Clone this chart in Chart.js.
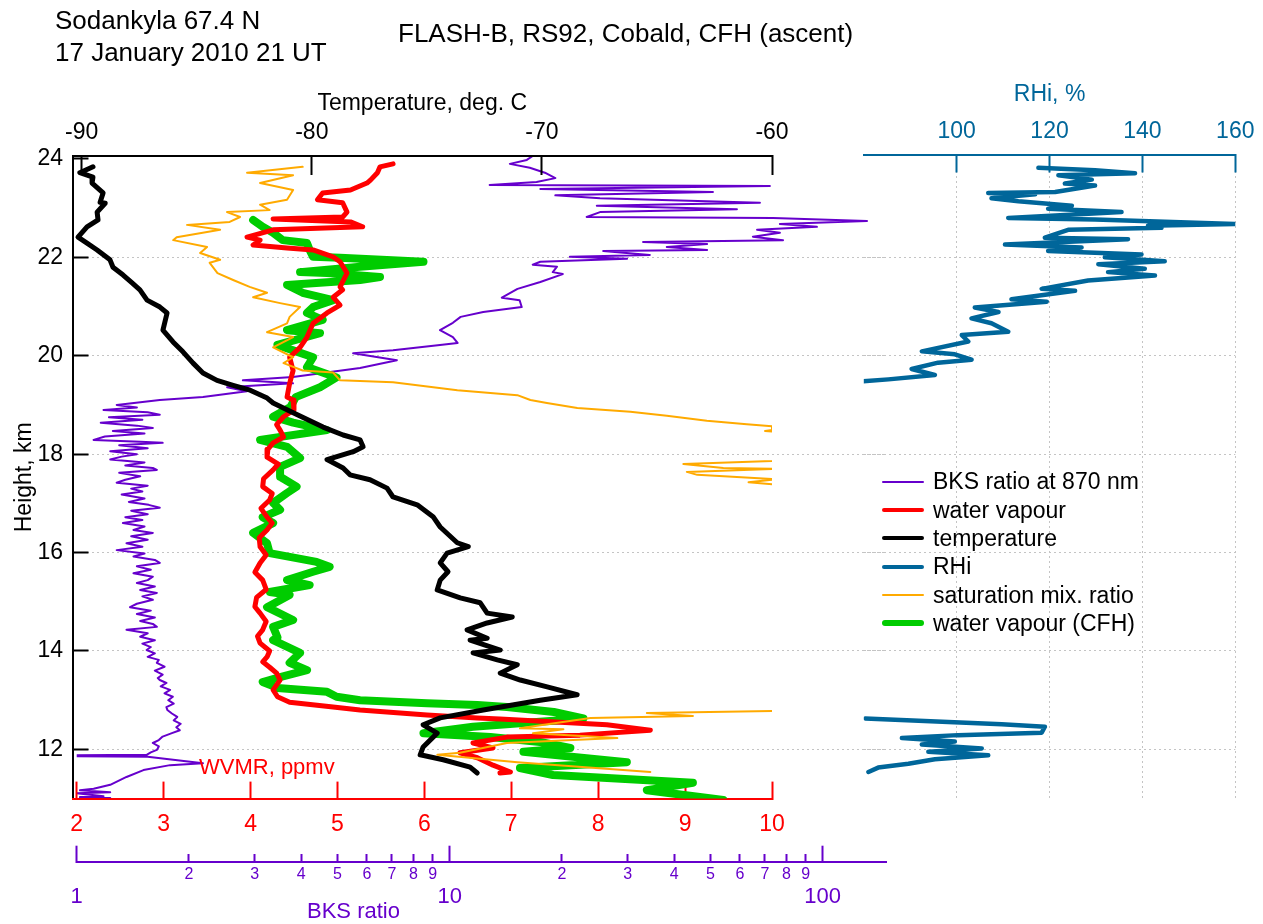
<!DOCTYPE html>
<html lang="en">
<head>
<meta charset="utf-8">
<title>Sodankyla 17 January 2010</title>
<script src="https://cdn.jsdelivr.net/npm/chart.js@4.4.0/dist/chart.umd.min.js"></script>
<style>
  body { margin: 0; background: #fff; font-family: 'Liberation Sans', Arial, sans-serif; }
  #wrap { position: relative; width: 1263px; height: 924px; overflow: hidden; }
  canvas { position: absolute; left: 0; top: 0; }
  .txt { position: absolute; white-space: nowrap; line-height: 1; }
  .sw { position: absolute; left: 882px; width: 42px; }
</style>
</head>
<body>
<div id="wrap">
  <canvas id="bksChart" width="1263" height="924"></canvas>
  <canvas id="mainChart" width="1263" height="924"></canvas>
  <canvas id="rhiChart" width="1263" height="924"></canvas>
  <div class="txt" style="left:55px;top:7px;font-size:26px;">Sodankyla 67.4 N</div>
  <div class="txt" style="left:55px;top:39px;font-size:26px;">17 January 2010 21 UT</div>
  <div class="txt" style="left:398px;top:20px;font-size:26px;">FLASH-B, RS92, Cobald, CFH (ascent)</div>
  <div class="txt" style="left:199px;top:756px;font-size:22px;color:#ff0000;">WVMR, ppmv</div>
  <div class="txt" style="left:307px;top:900px;font-size:22px;color:#6600cc;">BKS ratio</div>
  <div id="legend"></div>
</div>
<script>
  // tick values
  const heightTicks = [12, 14, 16, 18, 20, 22, 24];
  const gridHeights = [12, 14, 16, 18, 20, 22];
  const tempTicks = [-90, -80, -70, -60];
  const wvmrTicks = [2, 3, 4, 5, 6, 7, 8, 9, 10];
  const rhiTicks = [100, 120, 140, 160];
  const bksTicks = [1, 2, 3, 4, 5, 6, 7, 8, 9, 10, 20, 30, 40, 50, 60, 70, 80, 90, 100];
  const bksMajor = [1, 10, 100];

  // temperature, deg C
  const tempH = [23.84, 23.72, 23.63, 23.51, 23.31, 23.12, 23.10, 22.92, 22.76, 22.62, 22.41, 22.29, 22.15, 21.95,
    21.80, 21.64, 21.48, 21.34, 21.13, 20.99, 20.87, 20.52, 20.28, 20.08, 19.85, 19.65, 19.50, 19.40, 19.30,
    19.14, 19.04, 18.84, 18.55, 18.39, 18.29, 18.15, 18.05, 17.89, 17.72, 17.58, 17.48, 17.31, 17.13, 16.97,
    16.73, 16.52, 16.20, 16.12, 15.99, 15.79, 15.61, 15.44, 15.24, 15.08, 14.98, 14.77, 14.69, 14.57, 14.43,
    14.26, 14.22, 14.02, 13.96, 13.82, 13.72, 13.55, 13.41, 13.27, 13.11, 13.00, 12.80, 12.64, 12.50, 12.33,
    12.05, 11.89, 11.79, 11.64, 11.52];
  const tempC = [-89.51, -90.08, -89.51, -89.55, -89.07, -89.20, -88.98, -89.33, -89.29, -89.77, -90.16, -89.77,
    -89.33, -88.77, -88.64, -88.20, -87.81, -87.47, -87.16, -86.60, -86.29, -86.47, -86.03, -85.60, -85.16,
    -84.73, -84.12, -83.42, -82.68, -81.94, -81.68, -80.81, -79.51, -78.64, -77.90, -77.77, -78.20, -79.34,
    -78.64, -78.34, -77.47, -76.73, -76.47, -75.42, -74.73, -74.42, -73.68, -73.20, -74.12, -74.42, -74.08,
    -74.42, -74.55, -73.55, -72.68, -72.38, -71.29, -72.38, -73.25, -72.38, -73.12, -71.81, -72.99, -71.94,
    -71.07, -71.81, -70.94, -69.77, -68.47, -70.07, -72.55, -74.42, -75.16, -74.55, -75.16, -75.29, -74.29,
    -73.12, -72.81];

  // water vapour (FLASH-B), ppmv
  const wvH = [23.90, 23.84, 23.72, 23.57, 23.51, 23.37, 23.31, 23.17, 23.11, 22.92, 22.82, 22.78, 22.72, 22.62,
    22.56, 22.41, 22.35, 22.25, 22.19, 22.15, 22.01, 21.91, 21.68, 21.40, 21.34, 21.19, 21.03, 20.87, 20.66,
    20.38, 20.17, 19.97, 19.70, 19.44, 19.16, 19.10, 18.90, 18.76, 18.60, 18.49, 18.35, 18.23, 18.10, 17.94,
    17.80, 17.68, 17.50, 17.34, 17.20, 17.07, 16.90, 16.72, 16.60, 16.46, 16.30, 16.12, 15.95, 15.79, 15.60,
    15.44, 15.25, 15.09, 14.90, 14.77, 14.60, 14.43, 14.30, 14.16, 14.00, 13.88, 13.78, 13.67, 13.55, 13.41,
    13.21, 13.07, 12.96, 12.86, 12.80, 12.70, 12.64, 12.62, 12.50, 12.39, 12.29, 12.25, 12.13, 12.03, 11.93,
    11.83, 11.68, 11.54, 11.52];
  const wvPpmv = [5.64, 5.49, 5.46, 5.38, 5.34, 5.15, 4.83, 4.77, 5.06, 5.11, 5.06, 4.26, 5.15, 5.29, 4.26, 3.96,
    4.11, 4.03, 4.42, 4.72, 4.95, 5.03, 5.11, 5.03, 5.06, 4.95, 5.03, 4.88, 4.72, 4.65, 4.57, 4.45, 4.49, 4.45,
    4.42, 4.49, 4.50, 4.38, 4.30, 4.34, 4.38, 4.26, 4.20, 4.19, 4.32, 4.26, 4.15, 4.14, 4.25, 4.22, 4.12, 4.19,
    4.25, 4.19, 4.10, 4.11, 4.18, 4.11, 4.05, 4.14, 4.18, 4.07, 4.05, 4.11, 4.18, 4.14, 4.08, 4.11, 4.22, 4.19,
    4.14, 4.22, 4.30, 4.34, 4.26, 4.31, 4.45, 4.95, 5.26, 6.03, 6.61, 6.87, 8.10, 8.60, 7.79, 6.95, 6.56, 6.79,
    6.41, 6.61, 6.79, 6.99, 6.87];

  // water vapour (CFH), ppmv
  const cfhH = [22.76, 22.62, 22.50, 22.35, 22.29, 22.15, 22.01, 21.99, 21.91, 21.81, 21.70, 21.68, 21.60, 21.54,
    21.44, 21.28, 21.13, 20.99, 20.87, 20.73, 20.52, 20.46, 20.22, 20.11, 19.97, 19.77, 19.56, 19.36, 19.16,
    18.96, 18.76, 18.64, 18.49, 18.29, 18.15, 17.92, 17.74, 17.54, 17.34, 17.21, 17.01, 16.87, 16.72, 16.60,
    16.40, 16.19, 15.99, 15.81, 15.71, 15.61, 15.44, 15.34, 15.20, 15.14, 14.89, 14.63, 14.49, 14.28, 14.22,
    13.96, 13.76, 13.61, 13.47, 13.37, 13.25, 13.17, 13.07, 13.00, 12.94, 12.90, 12.86, 12.76, 12.63, 12.56,
    12.46, 12.33, 12.25, 12.15, 12.03, 11.95, 11.74, 11.62, 11.48, 11.32, 11.17, 10.97];
  const cfhPpmv = [4.03, 4.14, 4.26, 4.37, 4.65, 4.68, 4.72, 5.03, 5.99, 5.26, 4.57, 4.88, 5.49, 5.26, 4.42, 4.60,
    4.95, 4.72, 4.65, 4.83, 4.42, 4.80, 4.31, 4.49, 4.72, 4.65, 4.99, 4.80, 4.52, 4.46, 4.26, 4.49, 4.88, 4.11,
    4.42, 4.57, 4.34, 4.34, 4.53, 4.42, 4.26, 4.34, 4.14, 4.26, 4.03, 4.19, 4.22, 4.76, 4.91, 4.72, 4.42, 4.68,
    4.22, 4.45, 4.19, 4.49, 4.26, 4.31, 4.26, 4.57, 4.45, 4.65, 4.34, 4.14, 4.31, 4.88, 4.99, 5.26, 6.03, 6.61,
    6.95, 7.49, 7.83, 7.33, 6.56, 5.99, 6.76, 7.33, 7.68, 7.14, 8.33, 7.10, 7.48, 9.09, 8.56, 9.44];

  // saturation mixing ratio, ppmv (runs off scale to the right between 18.4 and 12.8 km)
  const satH = [23.84, 23.72, 23.67, 23.51, 23.37, 23.17, 23.07, 22.96, 22.92, 22.82, 22.72, 22.66, 22.56, 22.41,
    22.35, 22.21, 22.09, 21.95, 21.89, 21.68, 21.54, 21.40, 21.28, 21.19, 21.07, 20.99, 20.79, 20.66, 20.48,
    20.38, 20.17, 19.97, 19.85, 19.70, 19.66, 19.50, 19.46, 19.30, 19.20, 19.10, 19.04, 18.94, 18.86, 18.78,
    18.68, 18.61, 18.57, 18.49, 18.47, 18.20, 17.86, 17.80, 17.72, 17.70, 17.64, 17.58, 17.49, 17.43, 17.38,
    15.00, 12.78, 12.74, 12.68, 12.64, 12.43, 12.41, 12.33, 12.23, 12.13, 11.93, 11.89, 11.74, 11.54];
  const satPpmv = [4.60, 3.96, 4.49, 4.11, 4.49, 4.42, 4.11, 4.22, 3.73, 3.88, 3.76, 3.27, 3.65, 3.15, 3.11, 3.50,
    3.42, 3.65, 3.53, 3.62, 3.80, 3.99, 4.19, 4.03, 4.34, 4.57, 4.45, 4.42, 4.19, 4.49, 4.26, 4.49, 4.38, 4.60,
    4.95, 5.03, 5.64, 6.38, 7.07, 7.22, 7.41, 7.76, 8.37, 8.79, 9.25, 9.71, 10.0, 10.0, 9.92, 12, 10.0, 8.98,
    9.44, 10.05, 9.02, 9.14, 10.05, 9.73, 10.05, 14, 10.02, 8.56, 9.09, 7.91, 7.10, 7.60, 7.25, 8.22, 6.95,
    6.41, 6.15, 7.07, 8.60];

  // backscatter ratio at 870 nm
  const bksH = [24.06, 23.98, 23.90, 23.82, 23.72, 23.61, 23.53, 23.47, 23.45, 23.39, 23.33, 23.26, 23.20, 23.11,
    23.05, 22.98, 22.92, 22.82, 22.80, 22.74, 22.68, 22.62, 22.56, 22.50, 22.42, 22.35, 22.31, 22.27, 22.21,
    22.15, 22.13, 22.05, 22.01, 21.97, 21.91, 21.85, 21.81, 21.70, 21.66, 21.50, 21.36, 21.18, 21.13, 20.99,
    20.89, 20.79, 20.67, 20.52, 20.38, 20.26, 20.22, 20.11, 20.05, 19.91, 19.75, 19.57, 19.50, 19.44, 19.36,
    19.28, 19.16, 19.10, 19.00, 18.95, 18.90, 18.85, 18.80, 18.75, 18.70, 18.64, 18.58, 18.53, 18.47, 18.42,
    18.36, 18.29, 18.25, 18.23, 18.18, 18.12, 18.06, 18.00, 17.95, 17.89, 17.83, 17.77, 17.72, 17.68, 17.62,
    17.55, 17.48, 17.42, 17.36, 17.30, 17.24, 17.18, 17.10, 17.03, 16.97, 16.91, 16.85, 16.78, 16.72, 16.66,
    16.60, 16.53, 16.46, 16.40, 16.33, 16.26, 16.19, 16.12, 16.05, 15.98, 15.92, 15.85, 15.79, 15.72, 15.65,
    15.58, 15.51, 15.44, 15.38, 15.31, 15.24, 15.18, 15.11, 15.04, 14.96, 14.89, 14.82, 14.75, 14.68, 14.61,
    14.55, 14.49, 14.43, 14.36, 14.29, 14.22, 14.15, 14.08, 14.02, 13.95, 13.88, 13.82, 13.76, 13.68, 13.60,
    13.52, 13.45, 13.41, 13.35, 13.28, 13.21, 13.14, 13.07, 13.00, 12.93, 12.86, 12.80, 12.73, 12.66, 12.59,
    12.52, 12.45, 12.39, 12.33, 12.26, 12.19, 12.13, 12.06, 11.99, 11.94, 11.89, 11.87, 11.85, 11.72, 11.68,
    11.58, 11.44, 11.28, 11.20, 11.17, 11.13, 11.11, 11.05, 11.03, 11.01];
  const bksRatio = [16.7, 16.1, 14.5, 16.4, 18.0, 19.2, 17.1, 12.8, 72.2, 17.5, 50.8, 19.2, 25.3, 67.9, 24.8, 58.9,
    25.3, 23.3, 73.6, 131.5, 76.8, 96.5, 66.7, 76.8, 65.0, 78.3, 33.0, 49.0, 38.2, 49.0, 25.8, 34.4, 21.0, 29.9,
    17.5, 16.7, 19.4, 18.9, 20.1, 17.5, 15.2, 13.8, 15.4, 15.6, 12.3, 10.7, 10.2, 9.42, 10.2, 10.5, 9.42, 7.05,
    5.51, 7.22, 5.75, 3.80, 2.79, 3.80, 2.53, 2.86, 2.18, 1.67, 1.28, 1.45, 1.18, 1.55, 1.67, 1.22, 1.50, 1.16,
    1.45, 1.60, 1.25, 1.52, 1.19, 1.11, 1.48, 1.70, 1.30, 1.55, 1.23, 1.45, 1.32, 1.23, 1.52, 1.35, 1.60, 1.64,
    1.30, 1.48, 1.35, 1.28, 1.55, 1.40, 1.50, 1.32, 1.52, 1.38, 1.56, 1.67, 1.40, 1.55, 1.35, 1.50, 1.33, 1.52,
    1.42, 1.60, 1.40, 1.55, 1.36, 1.50, 1.28, 1.52, 1.42, 1.62, 1.67, 1.45, 1.58, 1.42, 1.60, 1.55, 1.45, 1.62,
    1.48, 1.64, 1.50, 1.60, 1.45, 1.39, 1.58, 1.45, 1.62, 1.48, 1.60, 1.64, 1.36, 1.55, 1.48, 1.62, 1.50, 1.58,
    1.54, 1.62, 1.55, 1.66, 1.64, 1.72, 1.62, 1.70, 1.65, 1.67, 1.74, 1.68, 1.78, 1.72, 1.81, 1.76, 1.82, 1.74,
    1.75, 1.80, 1.86, 1.82, 1.90, 1.85, 1.89, 1.80, 1.70, 1.66, 1.60, 1.66, 1.64, 1.58, 1.54, 0.6, 1.55, 2.18,
    1.78, 1.51, 1.36, 1.23, 1.11, 1.02, 1.23, 1.0, 1.18, 1.02, 1.23];

  // relative humidity over ice, %
  const rhiUpperH = [23.82, 23.77, 23.71, 23.67, 23.58, 23.50, 23.46, 23.33, 23.31, 23.28, 23.20, 23.14, 23.05,
    22.99, 22.92, 22.80, 22.77, 22.68, 22.64, 22.60, 22.56, 22.40, 22.37, 22.26, 22.20, 22.13, 22.06, 22.00,
    21.92, 21.86, 21.77, 21.70, 21.63, 21.53, 21.36, 21.32, 21.15, 21.10, 20.98, 20.89, 20.76, 20.66, 20.49,
    20.42, 20.29, 20.09, 20.03, 19.92, 19.86, 19.73, 19.61, 19.52, 19.48];
  const rhiUpper = [117.6, 129.8, 138.4, 121.9, 129.1, 123.3, 129.8, 121.2, 106.8, 116.9, 107.5, 113.3, 124.8,
    119.7, 135.5, 111.1, 129.8, 159.9, 141.2, 144.1, 124.0, 119.0, 136.9, 110.4, 126.9, 119.7, 139.8, 131.9,
    144.8, 130.5, 140.5, 132.6, 142.7, 128.3, 118.3, 125.5, 111.8, 119.4, 103.9, 109.0, 103.2, 107.5, 111.1,
    101.1, 102.5, 92.5, 99.6, 103.2, 96.0, 90.3, 95.3, 85.3, 79.9];
  const rhiLowerH = [12.63, 12.51, 12.46, 12.34, 12.29, 12.23, 12.16, 12.10, 12.02, 11.95, 11.88, 11.80, 11.71,
    11.63, 11.54];
  const rhiLower = [80.3, 109.7, 119.0, 118.3, 100.3, 88.2, 99.6, 92.5, 105.4, 93.9, 106.8, 95.3, 89.6, 83.1, 81.0];

  const PURPLE = '#6600cc', RED = '#ff0000', ORANGE = '#ffaa00', GREEN = '#00cc00', BLUE = '#00669a';
  const GRID = '#c4c4c4';

  // pixel frame shared by the three overlaid canvases
  const W = 1263, H = 924;
  const PLOT_TOP = 156, PLOT_BOTTOM = 798.6, H_TOP = 24.06, H_BOTTOM = 11;
  const kmPerPx = (H_TOP - H_BOTTOM) / (PLOT_BOTTOM - PLOT_TOP);

  Chart.defaults.font.family = "'Liberation Sans', Arial, sans-serif";
  Chart.defaults.font.size = 23;

  // fixed axis sizes; drop the edge-label margins so the plot areas stay where they are put
  const fixW = w => s => { s.width = w; s.paddingTop = 0; s.paddingBottom = 0; };
  const fixH = h => s => { s.height = h; s.paddingLeft = 0; s.paddingRight = 0; };
  const setTicks = vals => s => { s.ticks = vals.map(v => ({ value: v, major: bksMajor.includes(v) })); };

  function profile(label, hs, vs, color, width, xAxisID) {
    return {
      label, data: hs.map((h, i) => ({ x: vs[i], y: h })),
      borderColor: color, backgroundColor: color, borderWidth: width,
      pointRadius: 0, tension: 0, fill: false,
      borderJoinStyle: 'round', borderCapStyle: 'round',
      xAxisID, yAxisID: 'y'
    };
  }

  function baseOptions(padding, scales) {
    return {
      responsive: false, maintainAspectRatio: false, animation: false, events: [],
      layout: { padding, autoPadding: false },
      plugins: { legend: { display: false }, tooltip: { enabled: false } },
      scales
    };
  }

  // hidden height axis that only carries the dotted horizontal grid
  function gridY(min, max, width) {
    return {
      type: 'linear', position: 'left', min, max,
      afterFit: fixW(width), afterBuildTicks: setTicks(gridHeights),
      ticks: { display: false },
      border: { display: false, dash: [2, 3] },
      grid: { color: GRID, lineWidth: 1, borderDash: [2, 3], drawTicks: false }
    };
  }

  // backscatter ratio, log axis below the WVMR axis
  new Chart(document.getElementById('bksChart'), {
    type: 'line',
    data: { datasets: [profile('BKS ratio at 870 nm', bksH, bksRatio, PURPLE, 2, 'xB')] },
    options: baseOptions({ left: 0, top: PLOT_TOP, right: W - 886.7, bottom: 0 }, {
      y: gridY(H_BOTTOM, H_TOP, 76.7),
      xPad: {
        type: 'linear', position: 'bottom', weight: 0, min: 0, max: 1, afterFit: fixH(63.1),
        ticks: { display: false }, grid: { display: false }, border: { display: false }
      },
      xB: {
        type: 'logarithmic', position: 'bottom', weight: 1, min: 1, max: 148.5,
        afterFit: fixH(H - 861.7), afterBuildTicks: setTicks(bksTicks),
        border: { display: true, color: PURPLE, width: 2 },
        grid: {
          drawOnChartArea: false, drawTicks: true, tickLength: -16, tickColor: PURPLE, tickWidth: 2,
          tickBorderDash: c => (c.tick && c.tick.major) ? [] : [9, 40]
        },
        ticks: {
          autoSkip: false, maxRotation: 0, color: PURPLE, padding: 19.7,
          font: c => (c.tick && c.tick.major) ? { size: 22, lineHeight: 0.95 } : { size: 16, lineHeight: 1.2 },
          callback: v => bksMajor.includes(v) ? ['', String(v)] : String(v < 10 ? v : v / 10)
        }
      }
    })
  });

  // main panel: temperature on top, mixing ratios on the bottom axis
  new Chart(document.getElementById('mainChart'), {
    type: 'line',
    data: {
      datasets: [
        profile('saturation mix. ratio', satH, satPpmv, ORANGE, 2, 'xW'),
        profile('temperature', tempH, tempC, '#000', 5, 'xT'),
        profile('water vapour', wvH, wvPpmv, RED, 5, 'xW'),
        profile('water vapour (CFH)', cfhH, cfhPpmv, GREEN, 8, 'xW')
      ]
    },
    options: baseOptions({ left: 0, top: 60, right: W - 772, bottom: 0 }, {
      y: {
        type: 'linear', position: 'left', min: H_BOTTOM, max: H_TOP,
        afterFit: fixW(72.5), afterBuildTicks: setTicks(heightTicks),
        border: { display: true, color: '#000', width: 2 },
        grid: { drawOnChartArea: false, drawTicks: true, tickLength: -16, tickColor: '#000', tickWidth: 2 },
        ticks: { color: '#000', padding: 25.5 },
        title: { display: true, text: 'Height, km', color: '#000', padding: { top: 11.2, bottom: 0 } }
      },
      xT: {
        type: 'linear', position: 'top', min: -90.4, max: -60,
        afterFit: fixH(96), afterBuildTicks: setTicks(tempTicks),
        border: { display: true, color: '#000', width: 2 },
        grid: { drawOnChartArea: false, drawTicks: true, tickLength: -19, tickColor: '#000', tickWidth: 2 },
        ticks: { color: '#000', padding: 28.2, maxRotation: 0 },
        title: { display: true, text: 'Temperature, deg. C', color: '#000', padding: { top: 30.2, bottom: 0 } }
      },
      xW: {
        type: 'linear', position: 'bottom', min: 1.9517, max: 10,
        afterFit: fixH(H - PLOT_BOTTOM), afterBuildTicks: setTicks(wvmrTicks),
        border: { display: true, color: RED, width: 2 },
        grid: { drawOnChartArea: false, drawTicks: true, tickLength: -17, tickColor: RED, tickWidth: 2 },
        ticks: { color: RED, padding: 29.6, maxRotation: 0 }
      }
    })
  });

  // RHi panel on the right
  const rhiTop = 154.5;
  new Chart(document.getElementById('rhiChart'), {
    type: 'line',
    data: {
      datasets: [
        profile('RHi', rhiUpperH, rhiUpper, BLUE, 4.5, 'xR'),
        profile('RHi low', rhiLowerH, rhiLower, BLUE, 4.5, 'xR')
      ]
    },
    options: baseOptions({ left: 0, top: 60, right: W - 1235.3, bottom: H - PLOT_BOTTOM }, {
      y: gridY(H_BOTTOM, H_TOP + (PLOT_TOP - rhiTop) * kmPerPx, 863.8),
      xR: {
        type: 'linear', position: 'top', min: 80, max: 160,
        afterFit: fixH(rhiTop - 60), afterBuildTicks: setTicks(rhiTicks),
        border: { display: true, color: BLUE, width: 2, dash: [2, 3] },
        grid: {
          color: GRID, lineWidth: 1, borderDash: [2, 3], drawTicks: true, tickLength: -18,
          tickColor: BLUE, tickWidth: 2, tickBorderDash: []
        },
        ticks: { color: BLUE, padding: 27, maxRotation: 0 },
        title: { display: true, text: 'RHi, %', color: BLUE, padding: { top: 21.2, bottom: 0 } }
      }
    })
  });

  // legend
  const legendRows = [
    ['BKS ratio at 870 nm', PURPLE, 2],
    ['water vapour', RED, 4],
    ['temperature', '#000', 4],
    ['RHi', BLUE, 4],
    ['saturation mix. ratio', ORANGE, 2],
    ['water vapour (CFH)', GREEN, 6]
  ];
  const legend = document.getElementById('legend');
  legendRows.forEach(([text, color, w], i) => {
    const cy = 481.7 + i * 28.3;
    const sw = document.createElement('div');
    sw.className = 'sw';
    sw.style.top = (cy - w / 2) + 'px';
    sw.style.height = w + 'px';
    sw.style.background = color;
    sw.style.borderRadius = (w / 2) + 'px';
    legend.appendChild(sw);
    const t = document.createElement('div');
    t.className = 'txt';
    t.style.left = '933px';
    t.style.top = (cy - 11.3) + 'px';
    t.style.fontSize = '23px';
    t.textContent = text;
    legend.appendChild(t);
  });
</script>
</body>
</html>
